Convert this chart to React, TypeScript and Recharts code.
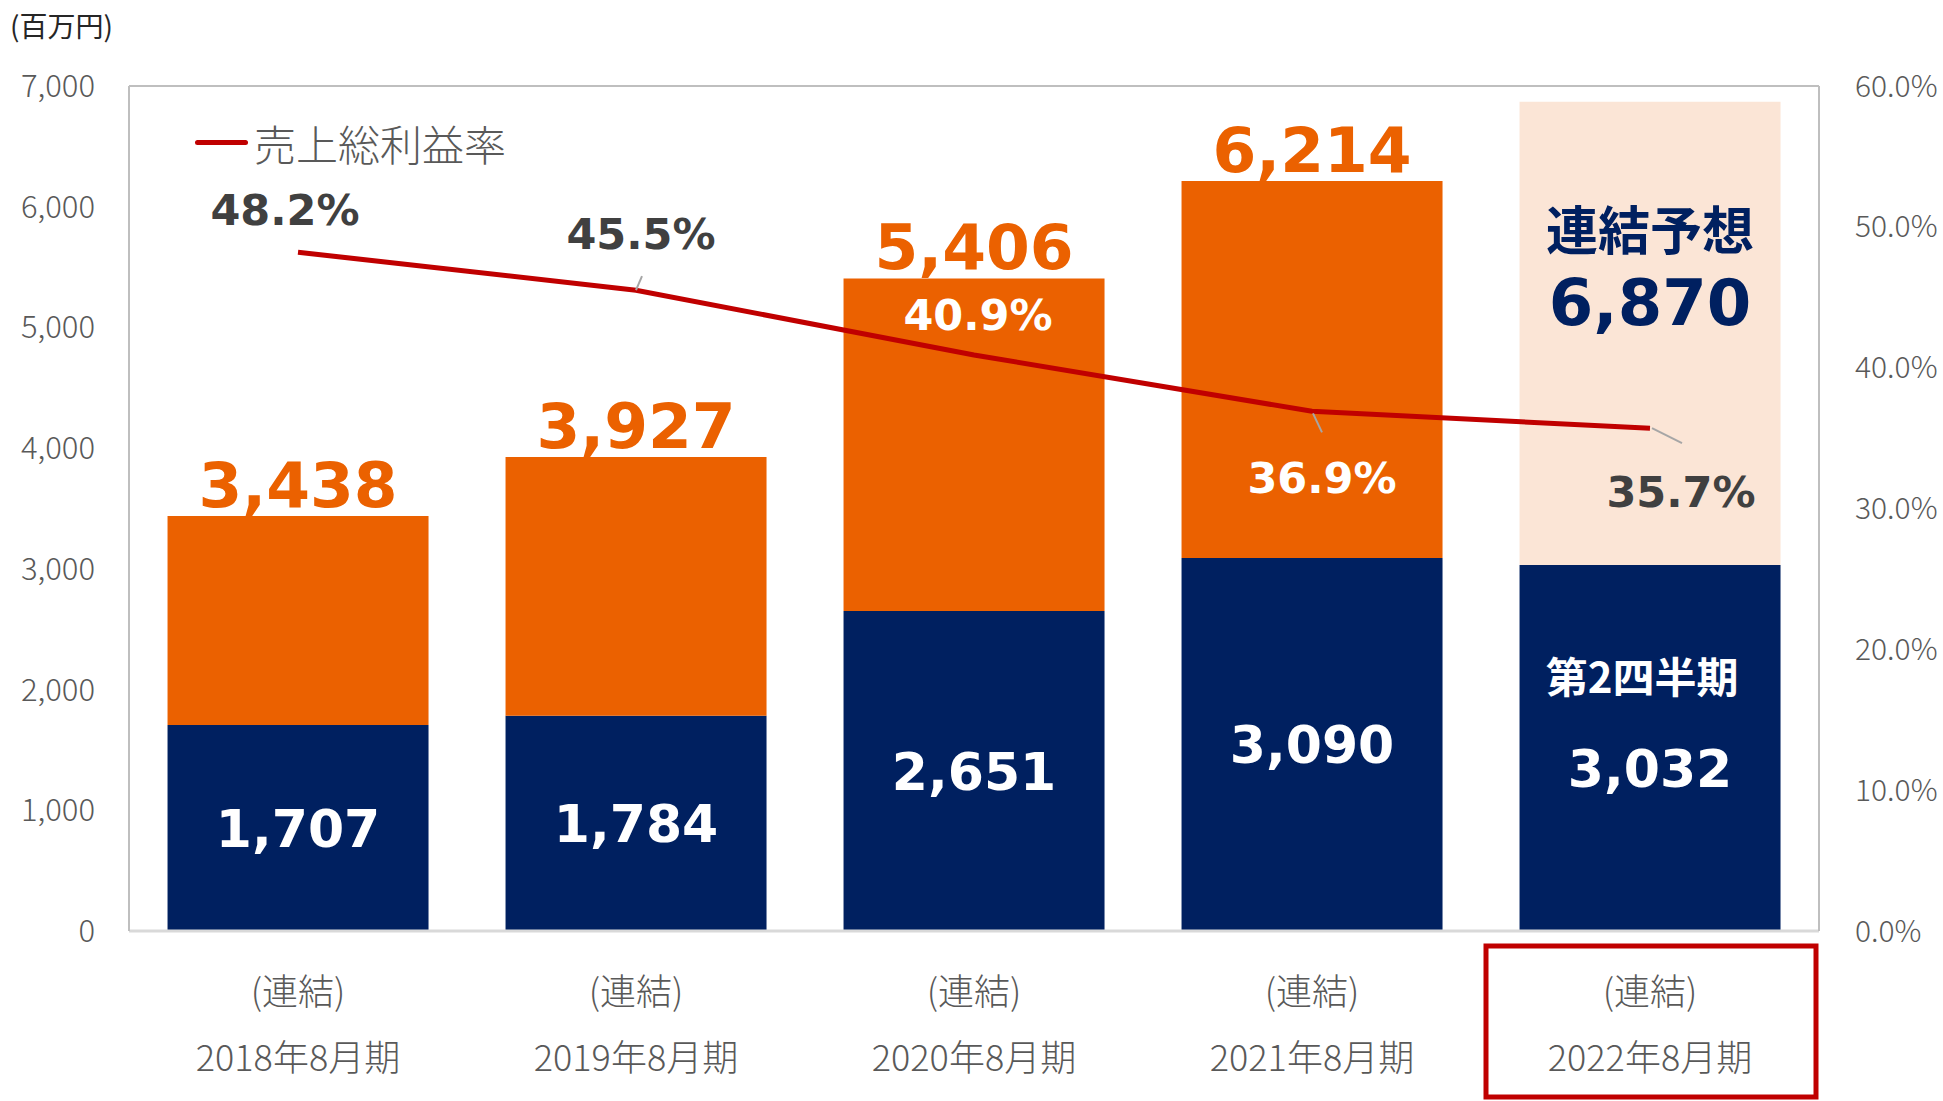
import React from "react"
import {
  Bar,
  Cell,
  ComposedChart,
  LabelList,
  Legend,
  Line,
  ReferenceLine,
  XAxis,
  YAxis,
} from "recharts"

const periods = ["2018年8月期", "2019年8月期", "2020年8月期", "2021年8月期", "2022年8月期"]
const scopeLabels = ["(連結)", "(連結)", "(連結)", "(連結)", "(連結)"]
const firstPart = [1707, 1784, 2651, 3090, 3032]
const totals = [3438, 3927, 5406, 6214, 6870]
const grossMargin = [0.482, 0.455, 0.409, 0.369, 0.357]
const isForecast = [false, false, false, false, true]
const leftTicks = [0, 1000, 2000, 3000, 4000, 5000, 6000, 7000]
const rightTicks = [0, 0.1, 0.2, 0.3, 0.4, 0.5, 0.6]

const NAVY = "#002060"
const ORANGE = "#EB6100"
const PEACH = "#FBE5D6"
const RED = "#C00000"
const GRAY = "#595959"
const DARK = "#404040"
const CJK = "'Noto Sans CJK JP', 'Noto Sans', sans-serif"
const NUM = "'DejaVu Sans', 'Noto Sans', sans-serif"

const data = periods.map((period, i) => ({
  period,
  first: firstPart[i],
  rest: totals[i] - firstPart[i],
  total: totals[i],
  margin: grossMargin[i],
}))

// placement of the gross-margin labels relative to their point
const marginLabelStyle = [
  { dx: -13, dy: -43, color: DARK, leader: null },
  { dx: 5, dy: -57, color: DARK, leader: [0, 0, 6, -14] },
  { dx: 4, dy: -40, color: "#fff", leader: null },
  { dx: 10, dy: 66, color: "#fff", leader: [1, 2, 10, 21] },
  { dx: 31, dy: 63, color: DARK, leader: [2, 0, 32, 15] },
]

const box = (p: any) => {
  const vb = p.viewBox ?? {}
  return {
    x: Number(vb.x ?? p.x ?? 0),
    y: Number(vb.y ?? p.y ?? 0),
    width: Number(vb.width ?? p.width ?? 0),
    height: Number(vb.height ?? p.height ?? 0),
  }
}

const fmt = (v: number) => v.toLocaleString("en-US")

function MarginLabel(p: any) {
  const { x, y } = box(p)
  const i = p.index ?? grossMargin.indexOf(p.value)
  const s = marginLabelStyle[i]
  if (!s) return null
  const fs = 43
  return (
    <g>
      {s.leader && (
        <line
          x1={x + s.leader[0]}
          y1={y + s.leader[1]}
          x2={x + s.leader[2]}
          y2={y + s.leader[3]}
          stroke="#A6A6A6"
          strokeWidth={2}
        />
      )}
      <text
        x={x + s.dx}
        y={y + s.dy + fs * 0.36}
        textAnchor="middle"
        fill={s.color}
        fontFamily={NUM}
        fontWeight={700}
        fontSize={fs}
      >
        {(grossMargin[i] * 100).toFixed(1)}%
      </text>
    </g>
  )
}

function TotalLabel(p: any) {
  const { x, y, width } = box(p)
  const i = p.index ?? totals.indexOf(p.value)
  const cx = x + width / 2
  if (isForecast[i]) {
    return (
      <g fill={NAVY} fontWeight={700} textAnchor="middle">
        <text x={cx} y={y + 129 + 52 * 0.38} fontFamily={CJK} fontSize={52}>
          連結予想
        </text>
        <text x={cx} y={y + 200 + 64 * 0.36} fontFamily={NUM} fontSize={64}>
          {fmt(totals[i])}
        </text>
      </g>
    )
  }
  return (
    <text
      x={cx}
      y={y - 9}
      textAnchor="middle"
      fill={ORANGE}
      fontFamily={NUM}
      fontWeight={700}
      fontSize={63}
    >
      {fmt(totals[i])}
    </text>
  )
}

function FirstLabel(p: any) {
  const { x, y, width, height } = box(p)
  const i = p.index ?? firstPart.indexOf(p.value)
  const cx = x + width / 2
  const cy = y + height / 2
  if (isForecast[i]) {
    return (
      <g fill="#fff" fontWeight={700} textAnchor="middle">
        <text x={cx - 8} y={cy - 71 + 42 * 0.38} fontFamily={CJK} fontSize={42}>
          第2四半期
        </text>
        <text x={cx} y={cy + 20 + 52 * 0.36} fontFamily={NUM} fontSize={52}>
          {fmt(firstPart[i])}
        </text>
      </g>
    )
  }
  return (
    <text
      x={cx}
      y={cy + 52 * 0.36}
      textAnchor="middle"
      fill="#fff"
      fontFamily={NUM}
      fontWeight={700}
      fontSize={52}
    >
      {fmt(firstPart[i])}
    </text>
  )
}

function PeriodTick(p: any) {
  const { x, y, payload } = p
  const i = p.index ?? periods.indexOf(payload.value)
  const fs = 36
  return (
    <g fill={GRAY} fontFamily={CJK} fontSize={fs} fontWeight={300} textAnchor="middle">
      <text x={x} y={y + 60 + fs * 0.38}>
        {scopeLabels[i]}
      </text>
      <text x={x} y={y + 126 + fs * 0.38}>
        {payload.value}
      </text>
      {isForecast[i] && (
        <rect x={x - 164} y={y + 15} width={330} height={151} fill="none" stroke={RED} strokeWidth={5} />
      )}
    </g>
  )
}

function MarginLegend() {
  return (
    <div style={{ display: "flex", alignItems: "center", fontFamily: CJK, fontSize: 42, fontWeight: 300, color: GRAY }}>
      <span style={{ display: "inline-block", width: 53, height: 5, borderRadius: 3, background: RED, marginRight: 6 }} />
      <span>売上総利益率</span>
    </div>
  )
}

export default function App() {
  return (
    <div style={{ position: "absolute", left: 0, top: 0, width: 1943, height: 1101, background: "#fff" }}>
      <div
        style={{
          position: "absolute",
          left: 10,
          top: 6,
          fontFamily: CJK,
          fontSize: 28,
          color: "#262626",
          lineHeight: "38px",
        }}
      >
        (百万円)
      </div>
      <ComposedChart
        width={1943}
        height={1101}
        data={data}
        margin={{ top: 86, right: 0, bottom: 0, left: 0 }}
        barCategoryGap="11.4%"
      >
        <XAxis
          dataKey="period"
          height={170}
          tickSize={0}
          tickMargin={0}
          interval={0}
          axisLine={{ stroke: "#D9D9D9", strokeWidth: 3 }}
          tick={<PeriodTick />}
        />
        <YAxis
          yAxisId="left"
          width={129}
          domain={[0, 7000]}
          ticks={leftTicks}
          tickFormatter={fmt}
          tickSize={0}
          tickMargin={34}
          axisLine={{ stroke: "#BFBFBF", strokeWidth: 2 }}
          tick={{ fill: GRAY, fontSize: 31, fontFamily: CJK, fontWeight: 300 }}
        />
        <YAxis
          yAxisId="right"
          orientation="right"
          width={124}
          domain={[0, 0.6]}
          ticks={rightTicks}
          tickFormatter={(v: number) => `${(v * 100).toFixed(1)}%`}
          tickSize={0}
          tickMargin={36}
          axisLine={{ stroke: "#BFBFBF", strokeWidth: 2 }}
          tick={{ fill: GRAY, fontSize: 30, fontFamily: CJK, fontWeight: 300, textAnchor: "start" }}
        />
        <ReferenceLine yAxisId="left" y={7000} stroke="#BFBFBF" strokeWidth={2} />
        <Legend
          layout="horizontal"
          verticalAlign="middle"
          content={<MarginLegend />}
          wrapperStyle={{ left: 195, top: 112, width: 360, height: 60 }}
        />
        <Bar yAxisId="left" dataKey="first" stackId="a" fill={NAVY} isAnimationActive={false}>
          <LabelList dataKey="first" content={<FirstLabel />} />
        </Bar>
        <Bar yAxisId="left" dataKey="rest" stackId="a" fill={ORANGE} isAnimationActive={false}>
          {data.map((_, i) => (
            <Cell key={i} fill={isForecast[i] ? PEACH : ORANGE} />
          ))}
          <LabelList dataKey="total" content={<TotalLabel />} />
        </Bar>
        <Line
          yAxisId="right"
          dataKey="margin"
          type="linear"
          stroke={RED}
          strokeWidth={5}
          dot={false}
          activeDot={false}
          isAnimationActive={false}
        >
          <LabelList dataKey="margin" content={<MarginLabel />} />
        </Line>
      </ComposedChart>
    </div>
  )
}
